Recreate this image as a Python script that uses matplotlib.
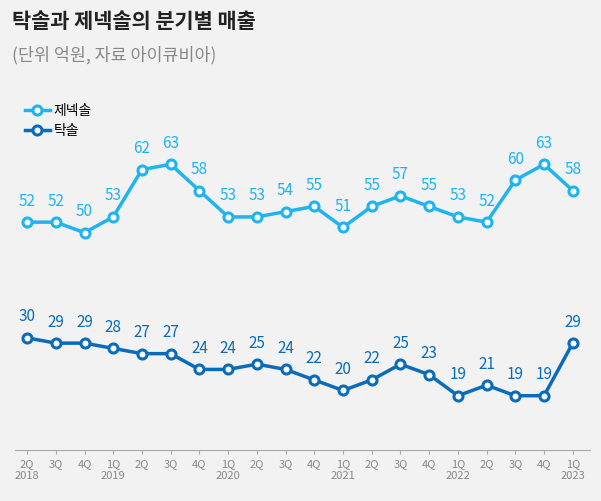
import matplotlib.pyplot as plt

plt.rcParams['font.family'] = ['Noto Sans CJK KR', 'DejaVu Sans']

quarters = ['2Q', '3Q', '4Q', '1Q', '2Q', '3Q', '4Q', '1Q', '2Q', '3Q', '4Q', '1Q',
            '2Q', '3Q', '4Q', '1Q', '2Q', '3Q', '4Q', '1Q']
years = ['2018', '', '', '2019', '', '', '', '2020', '', '', '', '2021',
         '', '', '', '2022', '', '', '', '2023']
genexol = [52, 52, 50, 53, 62, 63, 58, 53, 53, 54, 55, 51, 55, 57, 55, 53, 52, 60, 63, 58]
taxol = [30, 29, 29, 28, 27, 27, 24, 24, 25, 24, 22, 20, 22, 25, 23, 19, 21, 19, 19, 29]

bg = '#f2f2f2'
fig = plt.figure(figsize=(6.01, 5.01), dpi=100, facecolor=bg)
ax = fig.add_axes([15 / 601, 0.102, 575 / 601, 0.696], facecolor=bg)

x = list(range(len(quarters)))
series = [('제넥솔', genexol, '#1fb4f0'), ('탁솔', taxol, '#0a6bb8')]
for name, vals, c in series:
    ax.plot(x, vals, color=c, lw=2.5, marker='o', ms=6.5, mfc='white', mec=c, mew=2.2, label=name)
    for xi, v in zip(x, vals):
        ax.annotate(str(v), (xi, v), xytext=(0, 9), textcoords='offset points',
                    ha='center', va='bottom', color=c, fontsize=11)

ax.set_xlim(-0.42, 19.6)
ax.set_ylim(8.7, 75)
ax.set_yticks([])
ax.set_xticks(x)
ax.set_xticklabels([q + '\n' + y if y else q for q, y in zip(quarters, years)],
                   fontsize=8, color='#888888', linespacing=1.3)
ax.tick_params(axis='x', length=3, color='#aaaaaa')
for s in ['top', 'right', 'left']:
    ax.spines[s].set_visible(False)
ax.spines['bottom'].set_color('#aaaaaa')

leg = ax.legend(loc='upper left', bbox_to_anchor=(0.0, 1.02), frameon=False, fontsize=10,
                handlelength=1.8, handletextpad=0.3, borderaxespad=0.3, labelspacing=0.4)

fig.text(12 / 601, 1 - 22 / 501, '탁솔과 제넥솔의 분기별 매출', fontsize=15, fontweight='bold',
         color='#222222', va='center')
fig.text(12 / 601, 1 - 55 / 501, '(단위 억원, 자료 아이큐비아)', fontsize=12.5,
         color='#888888', va='center')

fig.savefig('out.png', dpi=100, facecolor=bg)
